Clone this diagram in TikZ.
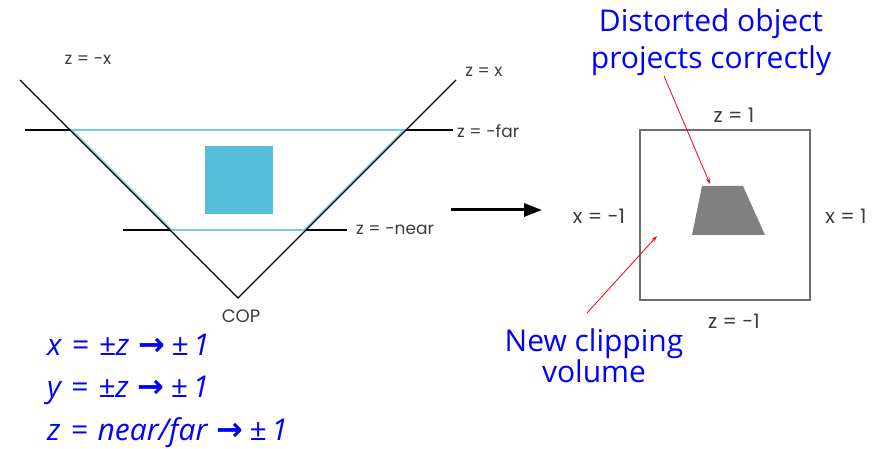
\documentclass[tikz,border=0pt]{standalone}
\usepackage{fontspec}
\setmainfont{Open Sans}
\newfontfamily\geo{Poppins}
\newfontfamily\arrfont{DejaVu Sans}
\usetikzlibrary{arrows.meta}
\definecolor{cyanfill}{RGB}{86,190,218}
\definecolor{cyanline}{RGB}{120,205,222}
\definecolor{lbl}{RGB}{60,60,60}
\definecolor{boxgray}{RGB}{110,110,110}
\definecolor{objgray}{RGB}{128,128,128}
\definecolor{txtblue}{RGB}{0,0,255}
\newcommand{\bigarr}{\hspace{9pt}{\arrfont\upshape\bfseries\fontsize{32}{32}\selectfont →}\hspace{6pt}}
\begin{document}
\begin{tikzpicture}[x=1pt,y=-1pt,
  blk/.style={draw=black,line width=1.2pt},
  cyn/.style={draw=cyanline,line width=1.2pt},
  smlbl/.style={text=lbl,font=\geo\fontsize{17}{19}\selectfont,inner sep=0pt},
  boxlbl/.style={text=lbl,font=\geo\fontsize{20}{22}\selectfont,inner sep=0pt},
  bluetxt/.style={text=txtblue,font=\fontsize{30}{37}\selectfont,align=center,inner sep=0pt},
  formula/.style={text=txtblue,font=\itshape\fontsize{30}{32}\selectfont,anchor=base west,inner sep=0pt},
  redarr/.style={draw=red,line width=0.8pt,-{Stealth[length=6pt,width=4pt]}}
]
\useasboundingbox (0,0) rectangle (886,449);
% frustum points
\coordinate (L) at (20,80);
\coordinate (COP) at (238,298);
\coordinate (R) at (456,80);
\coordinate (FL0) at (25,130);
\coordinate (FL) at (70,130);
\coordinate (FR) at (406,130);
\coordinate (FR0) at (453,130);
\coordinate (NL0) at (123,230);
\coordinate (NL) at (170,230);
\coordinate (NR) at (306,230);
\coordinate (NR0) at (347,230);
% cyan trapezoid
\draw[cyn] (FL) -- (FR);
\draw[cyn] (NL) -- (NR);
\draw[cyn] ([xshift=2pt]FL) -- ([xshift=2pt]NL);
\draw[cyn] ([xshift=-2pt]FR) -- ([xshift=-2pt]NR);
% black lines
\draw[blk] (L) -- (COP) -- (R);
\draw[blk] (FL0) -- (FL);
\draw[blk] (FR) -- (FR0);
\draw[blk] (NL0) -- (NL);
\draw[blk] (NR) -- (NR0);
% object
\node (cube) [fill=cyanfill,minimum width=68pt,minimum height=68pt,inner sep=0pt] at (239,180) {};
% labels
\node (lzmx) [smlbl] at (88,60) {z = -x};
\node (lzx) [smlbl] at (484,72) {z = x};
\node (lfar) [smlbl,anchor=west] at (457,131) {z = -far};
\node (lnear) [smlbl,anchor=west] at (356,230) {z = -near};
\node (lcop) [text=lbl,font=\geo\fontsize{18}{20}\selectfont,inner sep=0pt] at (241,316) {COP};
% transform arrow
\coordinate (a1) at (451,210);
\coordinate (a2) at (542,210);
\draw[line width=3pt,-{Triangle[length=18pt,width=13pt]}] (a1) -- (a2);
% normalized volume
\node (box) [draw=boxgray,line width=2pt,minimum width=170pt,minimum height=170pt,inner sep=0pt] at (725,215) {};
\coordinate (t1) at (702,186);
\coordinate (t2) at (743,186);
\coordinate (t3) at (765,235);
\coordinate (t4) at (692,235);
\fill[objgray] (t1) -- (t2) -- (t3) -- (t4) -- cycle;
\node (lz1) [boxlbl] at (734,115) {z = 1};
\node (lzm1) [boxlbl] at (734,321) {z = -1};
\node (lxm1) [boxlbl] at (599,216) {x = -1};
\node (lx1) [boxlbl] at (846,216) {x = 1};
% blue annotations
\node (dist) [bluetxt] at (711,42) {Distorted object\\projects correctly};
\node (newclip) [bluetxt,font=\fontsize{30}{31}\selectfont] at (594,356) {New clipping\\volume};
\coordinate (r1s) at (664,76);
\coordinate (r1e) at (710,184);
\coordinate (r2s) at (587,313);
\coordinate (r2e) at (657,236);
\draw[redarr] (r1s) -- (r1e);
\draw[redarr] (r2s) -- (r2e);
% formulas
\node (f1) [formula] at (47,355) {x\,\,=\,\,±z\bigarr±\,1};
\node (f2) [formula] at (47,397) {y\,\,=\,\,±z\bigarr±\,1};
\node (f3) [formula] at (47,440) {z\,\,=\,\,near/far\bigarr±\,1};
\end{tikzpicture}
\end{document}
